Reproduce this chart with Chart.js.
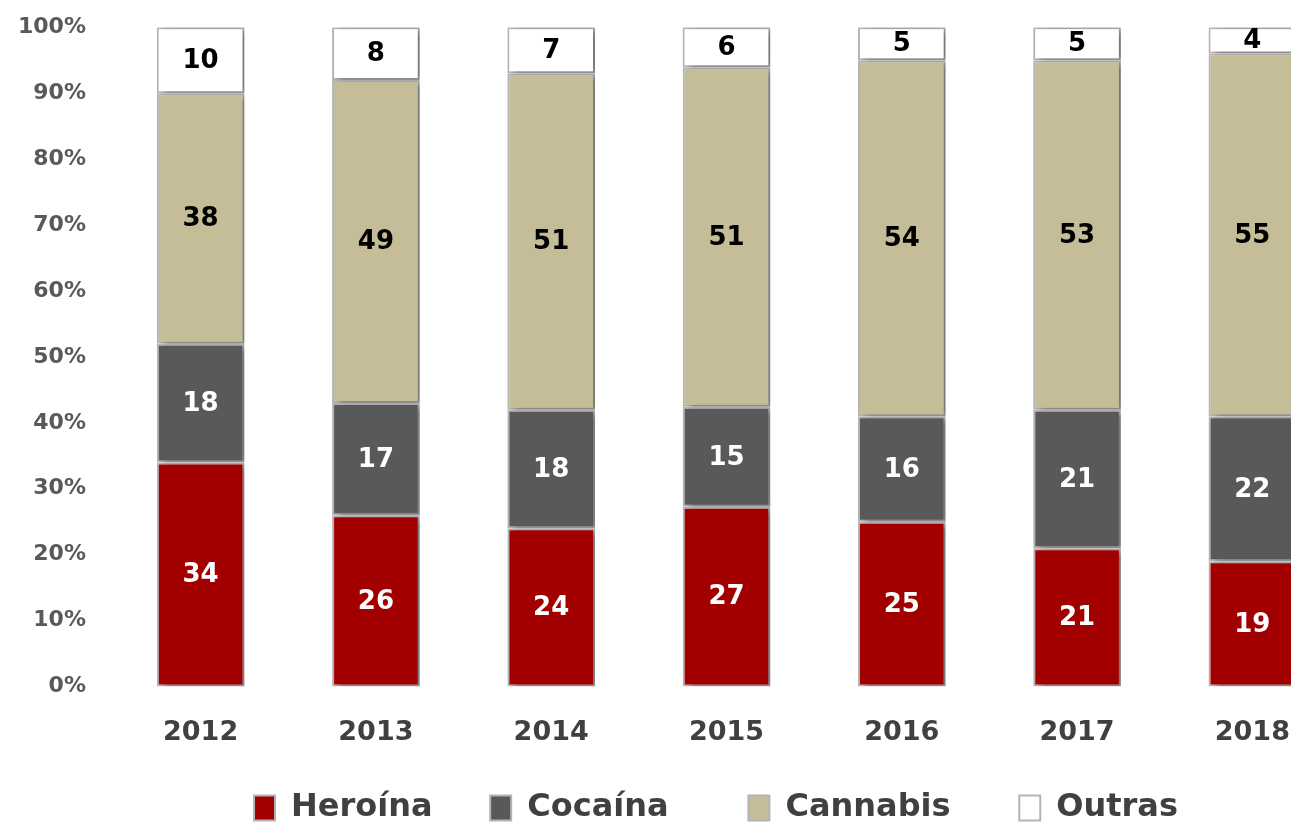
<!DOCTYPE html>
<html lang="pt">
<head>
  <meta charset="UTF-8">
  <title>Heroína, Cocaína, Cannabis, Outras</title>
  <script src="https://cdn.jsdelivr.net/npm/chart.js"></script>
  <style>
    html, body {
      margin: 0;
      padding: 0;
      background: #fff;
      overflow: hidden; /* last bar is cut at the right edge, like the original */
    }
    .wrap {
      width: 1291px;
      height: 826px;
      overflow: hidden;
      position: relative;
    }
    #drugChart {
      position: absolute;
      left: -20px;
      top: -13px;
    }
  </style>
</head>
<body>
<div class="wrap">
  <canvas id="drugChart" width="1463" height="847"></canvas>
</div>

<script>
  const years = ['2012', '2013', '2014', '2015', '2016', '2017', '2018'];
  const heroina  = [34, 26, 24, 27, 25, 21, 19];
  const cocaina  = [18, 17, 18, 15, 16, 21, 22];
  const cannabis = [38, 49, 51, 51, 54, 53, 55];
  const outras   = [10, 8, 7, 6, 5, 5, 4];
  const yTicks = [0, 10, 20, 30, 40, 50, 60, 70, 80, 90, 100];

  // bars are drawn as 100% stacks, labels keep the raw numbers
  const totals = years.map((y, i) => heroina[i] + cocaina[i] + cannabis[i] + outras[i]);
  const toPct = arr => arr.map((v, i) => v / totals[i] * 100);

  const FONT = "'DejaVu Sans', sans-serif";
  Chart.defaults.font.family = FONT;
  Chart.defaults.font.weight = 'bold';

  // soft shadow on the right of every bar
  const barShadow = {
    id: 'barShadow',
    beforeDatasetsDraw(chart) {
      const ctx = chart.ctx;
      ctx.save();
      ctx.shadowColor = 'rgba(0,0,0,0.35)';
      ctx.shadowBlur = 6;
      ctx.shadowOffsetX = 5;
      ctx.shadowOffsetY = 2;
    },
    afterDatasetsDraw(chart) {
      chart.ctx.restore();
    }
  };

  // numbers inside the segments
  const segLabels = {
    id: 'segLabels',
    afterDatasetsDraw(chart) {
      const ctx = chart.ctx;
      ctx.save();
      ctx.font = 'bold 26px ' + FONT;
      ctx.textAlign = 'center';
      ctx.textBaseline = 'middle';
      chart.data.datasets.forEach((ds, di) => {
        const meta = chart.getDatasetMeta(di);
        meta.data.forEach((bar, i) => {
          const p = bar.getProps(['x', 'y', 'base'], true);
          ctx.fillStyle = ds.labelColor;
          ctx.fillText(String(ds.raw[i]), p.x, (p.y + p.base) / 2 + 1);
        });
      });
      ctx.restore();
    }
  };

  const ctx = document.getElementById('drugChart').getContext('2d');
  const drugChart = new Chart(ctx, {
    type: 'bar',
    data: {
      labels: years,
      datasets: [
        // trailing spaces give the gaps between legend entries
        { label: 'Heroína    ', raw: heroina, data: toPct(heroina), backgroundColor: '#a20000', labelColor: '#ffffff' },
        { label: 'Cocaína      ', raw: cocaina, data: toPct(cocaina), backgroundColor: '#595959', labelColor: '#ffffff' },
        { label: 'Cannabis     ', raw: cannabis, data: toPct(cannabis), backgroundColor: '#c4bd97', labelColor: '#000000' },
        { label: 'Outras', raw: outras, data: toPct(outras), backgroundColor: '#ffffff', labelColor: '#000000' }
      ].map(d => Object.assign(d, {
        borderColor: '#b4b4b4',
        borderWidth: 2,
        borderSkipped: false,
        categoryPercentage: 1,
        barPercentage: 0.5
      }))
    },
    options: {
      responsive: false,
      animation: false,
      layout: {
        padding: { top: 14, left: 11, right: 2, bottom: 0 }
      },
      plugins: {
        tooltip: { enabled: false },
        legend: {
          position: 'bottom',
          labels: {
            boxWidth: 21,
            boxHeight: 25,
            padding: 13,
            color: '#404040',
            font: { size: 32, weight: 'bold', family: FONT }
          }
        }
      },
      scales: {
        x: {
          stacked: true,
          grid: { display: false, drawTicks: false },
          border: { display: false },
          ticks: {
            color: '#404040',
            padding: 30,
            font: { size: 27, weight: 'bold' }
          }
        },
        y: {
          stacked: true,
          min: 0,
          max: 100,
          afterBuildTicks(axis) {
            axis.ticks = yTicks.map(v => ({ value: v }));
          },
          grid: { display: false, drawTicks: false },
          border: { display: false },
          ticks: {
            color: '#595959',
            padding: 27,
            font: { size: 22, weight: 'bold' },
            callback: v => v + '%'
          }
        },
        // empty right-hand axis, only reserves room so the plot runs past the edge
        yRight: {
          position: 'right',
          grid: { display: false, drawTicks: false },
          border: { display: false },
          ticks: { display: false },
          afterFit(axis) {
            axis.width = 101;
          }
        }
      }
    },
    plugins: [barShadow, segLabels]
  });
</script>
</body>
</html>
